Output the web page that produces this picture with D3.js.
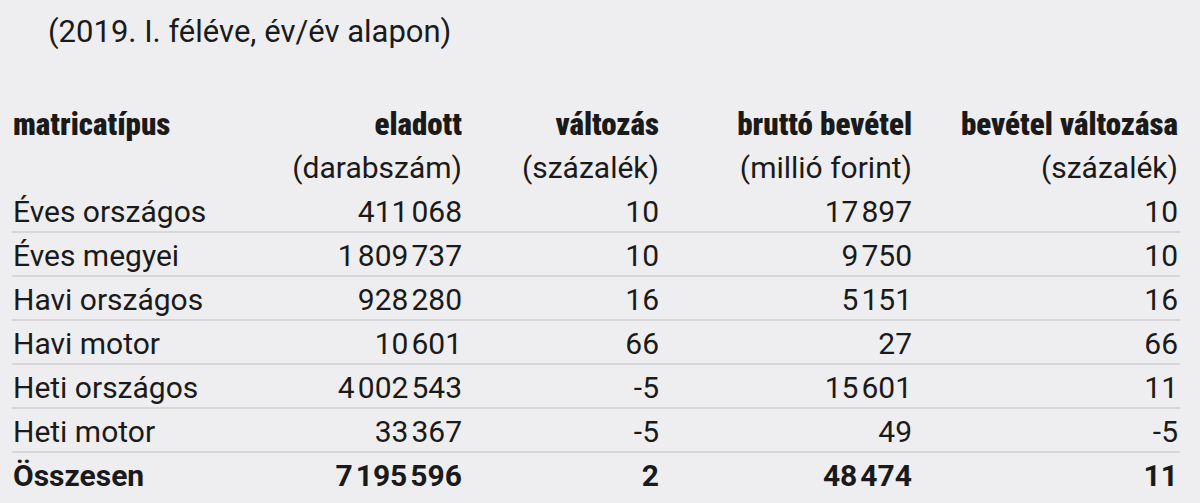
<!DOCTYPE html>
<html lang="hu">
<head>
<meta charset="UTF-8" />
<style>
  html, body { margin: 0; padding: 0; background: #eeeef0; overflow: hidden; }
  text { font-family: Roboto, "Noto Sans", sans-serif; fill: #1a1a1a; }
  .head { font-family: "Liberation Sans Narrow", "Roboto Condensed", Roboto, sans-serif; font-weight: 900; font-stretch: condensed; }
</style>
</head>
<body>
<svg id="chart"></svg>
<script src="https://d3js.org/d3.v7.min.js"></script>
<script>
  const title = '(2019. I. féléve, év/év alapon)';
  const headers = ['matricatípus', 'eladott', 'változás', 'bruttó bevétel', 'bevétel változása'];
  const subHeaders = ['', '(darabszám)', '(százalék)', '(millió forint)', '(százalék)'];
  const types = ['Éves országos', 'Éves megyei', 'Havi országos', 'Havi motor', 'Heti országos', 'Heti motor', 'Összesen'];
  const sold = [411068, 1809737, 928280, 10601, 4002543, 33367, 7195596];
  const soldChange = [10, 10, 16, 66, -5, -5, 2];
  const revenue = [17897, 9750, 5151, 27, 15601, 49, 48474];
  const revenueChange = [10, 10, 16, 66, 11, -5, 11];

  const width = 1200, height = 503;
  const svg = d3.select('#chart').attr('width', width).attr('height', height);

  const colRight = [null, 462, 659, 912, 1178];
  const y = d3.scaleBand().domain(d3.range(types.length)).range([188, 496]);
  const fmt = (n) => d3.format(',')(n).replace(/,/g, '\u200A');

  svg.append('text').attr('x', 48).attr('y', 42).attr('font-size', 31).text(title);

  headers.forEach((h, i) => {
    svg.append('text').attr('class', 'head')
      .attr('x', i === 0 ? 13 : colRight[i]).attr('y', 135)
      .attr('text-anchor', i === 0 ? 'start' : 'end')
      .attr('font-size', 31).text(h);
    if (subHeaders[i]) {
      svg.append('text').attr('x', colRight[i]).attr('y', 178)
        .attr('text-anchor', 'end').attr('font-size', 30).text(subHeaders[i]);
    }
  });

  const rows = svg.selectAll('g.row').data(types).join('g')
    .attr('class', 'row')
    .attr('transform', (d, i) => `translate(0,${y(i)})`);

  rows.filter((d, i) => i < types.length - 1).append('line')
    .attr('x1', 12).attr('x2', 1180)
    .attr('y1', y.bandwidth()).attr('y2', y.bandwidth())
    .attr('stroke', '#cfcfd2').attr('stroke-width', 1.5);

  rows.each(function (d, i) {
    const g = d3.select(this);
    const total = i === types.length - 1;
    const vals = [d, fmt(sold[i]), soldChange[i], fmt(revenue[i]), revenueChange[i]];
    vals.forEach((v, j) => {
      g.append('text')
        .attr('x', j === 0 ? 13 : colRight[j])
        .attr('y', 34)
        .attr('text-anchor', j === 0 ? 'start' : 'end')
        .attr('font-size', 30)
        .attr('font-weight', total ? 700 : 400)
        .text(v);
    });
  });
</script>
</body>
</html>
